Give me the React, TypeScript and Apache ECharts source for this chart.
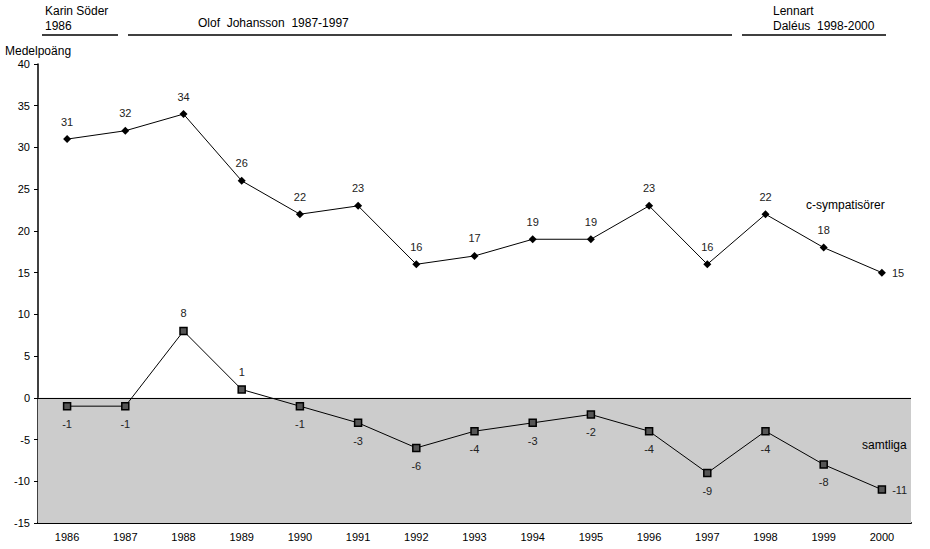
import React, { useEffect, useRef } from "react";
import * as echarts from "echarts";

const years = ["1986","1987","1988","1989","1990","1991","1992","1993","1994","1995","1996","1997","1998","1999","2000"];
const cSympatisorer = [31, 32, 34, 26, 22, 23, 16, 17, 19, 19, 23, 16, 22, 18, 15];
const samtliga = [-1, -1, 8, 1, -1, -3, -6, -4, -3, -2, -4, -9, -4, -8, -11];
const yTicks = { min: -15, max: 40, interval: 5 };

const FONT = "Liberation Sans, Arial, sans-serif";

export default function App() {
  const ref = useRef<HTMLDivElement>(null);
  useEffect(() => {
    if (!ref.current) return;
    const chart = echarts.init(ref.current, undefined, { renderer: "svg" });
    const n = years.length;
    const s1 = cSympatisorer.map((v, i) => ({
      value: v,
      label: i === n - 1 ? { position: "right", distance: 6 } : undefined,
    }));
    const s2 = samtliga.map((v, i) => ({
      value: v,
      label:
        i === n - 1
          ? { position: "right", distance: 6 }
          : v > 0
          ? { position: "top", distance: 8 }
          : { position: "bottom", distance: 8 },
    }));
    chart.setOption({
      animation: false,
      textStyle: { fontFamily: FONT },
      grid: { left: 38, right: 19, top: 64, bottom: 26, containLabel: false },
      xAxis: {
        type: "category",
        data: years,
        boundaryGap: true,
        axisLine: { onZero: false, lineStyle: { color: "#000", width: 2 } },
        axisTick: { show: false },
        axisLabel: { color: "#000", fontSize: 11, margin: 8, fontFamily: FONT },
        splitLine: { show: false },
      },
      yAxis: {
        type: "value",
        min: yTicks.min,
        max: yTicks.max,
        interval: yTicks.interval,
        axisLine: { show: true, lineStyle: { color: "#000", width: 1.5 } },
        axisTick: { show: true, length: 4, lineStyle: { color: "#000" } },
        axisLabel: { color: "#000", fontSize: 11, margin: 8, fontFamily: FONT },
        splitLine: { show: false },
      },
      graphic: [
        { type: "text", z: 100, left: 5, top: 45, style: { text: "Medelpoäng", fontSize: 12, fill: "#000", fontFamily: FONT } },
        { type: "text", z: 100, left: 45, top: 3, style: { text: "Karin Söder\n1986", fontSize: 12, lineHeight: 15, fill: "#000", fontFamily: FONT } },
        { type: "line", z: 100, shape: { x1: 42, y1: 35, x2: 118, y2: 35 }, style: { stroke: "#000", lineWidth: 1.5 } },
        { type: "text", z: 100, left: 198, top: 17, style: { text: "Olof  Johansson  1987-1997", fontSize: 12, fill: "#000", fontFamily: FONT } },
        { type: "line", z: 100, shape: { x1: 128, y1: 35, x2: 732, y2: 35 }, style: { stroke: "#000", lineWidth: 1.5 } },
        { type: "text", z: 100, left: 773, top: 3, style: { text: "Lennart\nDaléus  1998-2000", fontSize: 12, lineHeight: 15, fill: "#000", fontFamily: FONT } },
        { type: "line", z: 100, shape: { x1: 742, y1: 35, x2: 886, y2: 35 }, style: { stroke: "#000", lineWidth: 1.5 } },
        { type: "text", z: 100, left: 806, top: 199, style: { text: "c-sympatisörer", fontSize: 12, fill: "#000", fontFamily: FONT } },
        { type: "text", z: 100, left: 862, top: 439, style: { text: "samtliga", fontSize: 12, fill: "#000", fontFamily: FONT } },
      ],
      series: [
        {
          name: "c-sympatisörer",
          type: "line",
          data: s1,
          symbol: "diamond",
          symbolSize: 8,
          lineStyle: { color: "#000", width: 1 },
          itemStyle: { color: "#000" },
          label: { show: true, position: "top", distance: 8, color: "#222", fontSize: 11, fontFamily: FONT },
          z: 5,
        },
        {
          name: "samtliga",
          type: "line",
          data: s2,
          symbol: "rect",
          symbolSize: 7,
          lineStyle: { color: "#000", width: 1 },
          itemStyle: { color: "#555", borderColor: "#000", borderWidth: 1.5 },
          label: { show: true, position: "bottom", distance: 8, color: "#222", fontSize: 11, fontFamily: FONT },
          markArea: {
            silent: true,
            itemStyle: { color: "#cccccc" },
            data: [[{ yAxis: 0 }, { yAxis: -15 }]],
          },
          markLine: {
            silent: true,
            symbol: "none",
            label: { show: false },
            lineStyle: { color: "#000", type: "solid", width: 1 },
            data: [{ yAxis: 0 }],
          },
          z: 5,
        },
      ],
    });
    return () => chart.dispose();
  }, []);
  return <div ref={ref} style={{ width: 930, height: 549, position: "absolute", left: 0, top: 0, background: "#fff" }} />;
}
